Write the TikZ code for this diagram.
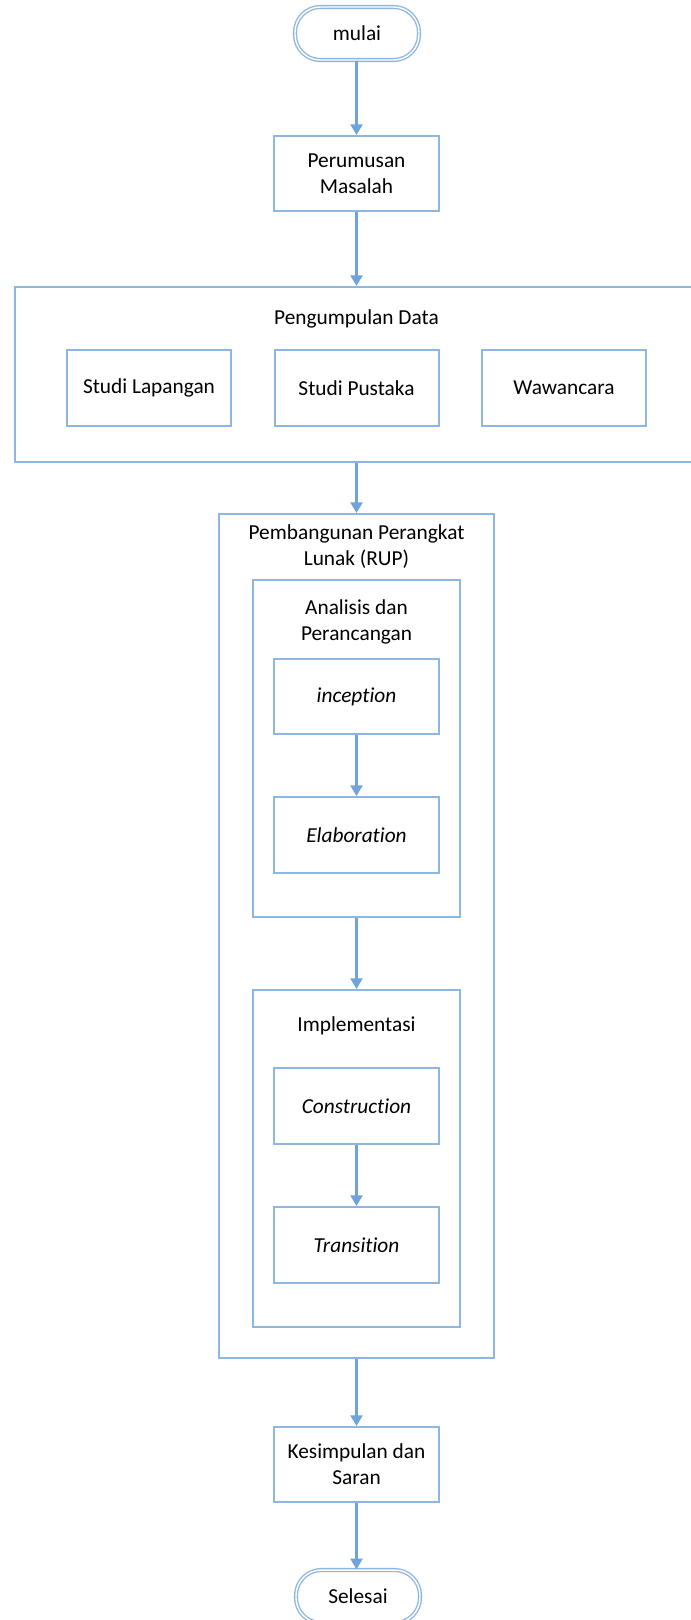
\documentclass[tikz,border=0pt]{standalone}
\usepackage{fontspec}
\setmainfont{Carlito}[Ligatures={NoCommon}]
\usetikzlibrary{arrows.meta}
\definecolor{boxblue}{RGB}{141,182,226}
\definecolor{arrblue}{RGB}{112,164,216}
\tikzset{
  sz/.style 2 args={minimum width=#1*0.75pt, minimum height=#2*0.75pt},
  boxnode/.style={draw=boxblue, line width=1.5pt, fill=white, inner sep=0pt, font=\fontsize{16}{19.5}\selectfont, align=center},
  container/.style={draw=boxblue, line width=1.5pt, inner sep=0pt},
  termnode/.style={draw=boxblue, double=white, double distance=1.1pt, line width=1pt, rounded corners=19pt, inner sep=0pt, font=\fontsize{16}{19.5}\selectfont},
  lbl/.style={inner sep=0pt, font=\fontsize{16}{19.5}\selectfont, align=center},
  flow/.style={draw=arrblue, line width=1.6pt, -{Triangle[width=9pt,length=8pt]}}
}
\begin{document}
\begin{tikzpicture}[x=0.75pt,y=-0.75pt]
\useasboundingbox (0,0) rectangle (690,1620);
\fill[white] (0,0) rectangle (690,1620);
% containers
\node[container, sz={690}{175}] (peng) at (360,374.5) {};
\node[lbl] (pengl) at (356.5,319) {Pengumpulan Data};
\node[container, sz={275}{844}] (pemb) at (356.5,936) {};
\node[lbl] (pembl) at (356.5,547) {Pembangunan Perangkat\\Lunak (RUP)};
\node[container, sz={207}{337}] (anal) at (356.5,748.5) {};
\node[lbl] (anall) at (356.5,622) {Analisis dan\\Perancangan};
\node[container, sz={207}{337}] (impl) at (356.5,1158.5) {};
\node[lbl] (impll) at (356.5,1026) {Implementasi};
% terminators
\node[termnode, sz={124}{53}] (mulai) at (357,33.5) {mulai};
\node[termnode, sz={124}{53}] (selesai) at (358,1596.5) {Selesai};
% boxes
\node[boxnode, sz={165}{75}] (perum) at (356.5,173.5) {Perumusan\\Masalah};
\node[boxnode, sz={164}{76}] (studl) at (149,388) {Studi Lapangan};
\node[boxnode, sz={164}{76}] (studp) at (356.5,388) {Studi Pustaka};
\node[boxnode, sz={164}{76}] (wawan) at (564,388) {Wawancara};
\node[boxnode, sz={165}{75}] (incep) at (356.5,696.5) {\itshape inception};
\node[boxnode, sz={165}{76}] (elab) at (356.5,835) {\itshape Elaboration};
\node[boxnode, sz={165}{76}] (cons) at (356.5,1106) {\itshape Construction};
\node[boxnode, sz={165}{76}] (trans) at (356.5,1245) {\itshape Transition};
\node[boxnode, sz={165}{75}] (kesim) at (356.5,1464.5) {Kesimpulan dan\\Saran};
% connectors
\draw[flow] (mulai.south -| perum.north) -- (perum.north);
\draw[flow] (perum.south) -- (perum.south |- peng.north);
\draw[flow] (perum.south |- peng.south) -- (pemb.north);
\draw[flow] (incep.south) -- (elab.north);
\draw[flow] (anal.south) -- (impl.north);
\draw[flow] (cons.south) -- (trans.north);
\draw[flow] (pemb.south) -- (kesim.north);
\draw[flow] (kesim.south) -- (kesim.south |- selesai.north);
\end{tikzpicture}
\end{document}
